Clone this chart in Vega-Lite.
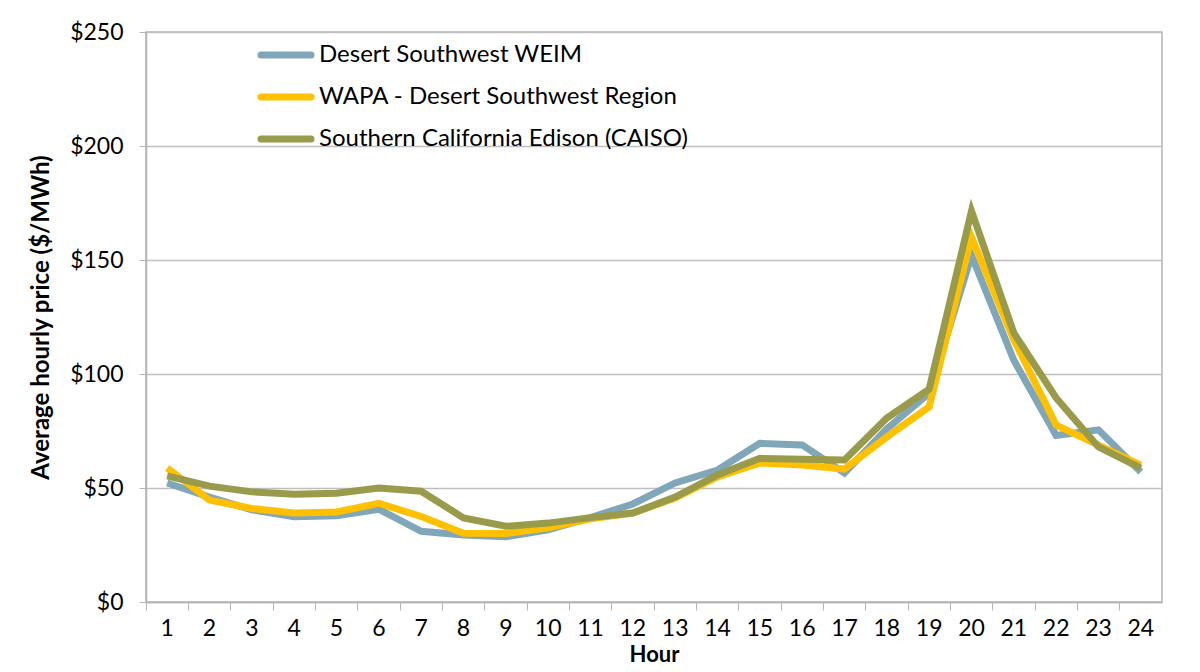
{
  "$schema": "https://vega.github.io/schema/vega-lite/v6.json",
  "width": 1016,
  "height": 570,
  "autosize": {"type": "none"},
  "padding": {"left": 146, "top": 32, "right": 38, "bottom": 70},
  "background": "white",
  "config": {
    "font": "Lato",
    "view": {"stroke": "#B4B4B4", "strokeWidth": 1.5}
  },
  "data": {
    "values": [
      {"hour": 1, "series": "Desert Southwest WEIM", "price": 52.2},
      {"hour": 2, "series": "Desert Southwest WEIM", "price": 46},
      {"hour": 3, "series": "Desert Southwest WEIM", "price": 40.4},
      {"hour": 4, "series": "Desert Southwest WEIM", "price": 37.4},
      {"hour": 5, "series": "Desert Southwest WEIM", "price": 37.8},
      {"hour": 6, "series": "Desert Southwest WEIM", "price": 40.7},
      {"hour": 7, "series": "Desert Southwest WEIM", "price": 31},
      {"hour": 8, "series": "Desert Southwest WEIM", "price": 29.4},
      {"hour": 9, "series": "Desert Southwest WEIM", "price": 28.6},
      {"hour": 10, "series": "Desert Southwest WEIM", "price": 31.6},
      {"hour": 11, "series": "Desert Southwest WEIM", "price": 37},
      {"hour": 12, "series": "Desert Southwest WEIM", "price": 43},
      {"hour": 13, "series": "Desert Southwest WEIM", "price": 52.2},
      {"hour": 14, "series": "Desert Southwest WEIM", "price": 57.9},
      {"hour": 15, "series": "Desert Southwest WEIM", "price": 69.6},
      {"hour": 16, "series": "Desert Southwest WEIM", "price": 68.9},
      {"hour": 17, "series": "Desert Southwest WEIM", "price": 56.6},
      {"hour": 18, "series": "Desert Southwest WEIM", "price": 76},
      {"hour": 19, "series": "Desert Southwest WEIM", "price": 91.6},
      {"hour": 20, "series": "Desert Southwest WEIM", "price": 152},
      {"hour": 21, "series": "Desert Southwest WEIM", "price": 106},
      {"hour": 22, "series": "Desert Southwest WEIM", "price": 73},
      {"hour": 23, "series": "Desert Southwest WEIM", "price": 75.5},
      {"hour": 24, "series": "Desert Southwest WEIM", "price": 57},
      {"hour": 1, "series": "WAPA - Desert Southwest Region", "price": 58.8},
      {"hour": 2, "series": "WAPA - Desert Southwest Region", "price": 44.7},
      {"hour": 3, "series": "WAPA - Desert Southwest Region", "price": 41},
      {"hour": 4, "series": "WAPA - Desert Southwest Region", "price": 39},
      {"hour": 5, "series": "WAPA - Desert Southwest Region", "price": 39.5},
      {"hour": 6, "series": "WAPA - Desert Southwest Region", "price": 43.3},
      {"hour": 7, "series": "WAPA - Desert Southwest Region", "price": 37.5},
      {"hour": 8, "series": "WAPA - Desert Southwest Region", "price": 30.2},
      {"hour": 9, "series": "WAPA - Desert Southwest Region", "price": 30},
      {"hour": 10, "series": "WAPA - Desert Southwest Region", "price": 32.5},
      {"hour": 11, "series": "WAPA - Desert Southwest Region", "price": 36.5},
      {"hour": 12, "series": "WAPA - Desert Southwest Region", "price": 39},
      {"hour": 13, "series": "WAPA - Desert Southwest Region", "price": 45.6},
      {"hour": 14, "series": "WAPA - Desert Southwest Region", "price": 54.9},
      {"hour": 15, "series": "WAPA - Desert Southwest Region", "price": 61},
      {"hour": 16, "series": "WAPA - Desert Southwest Region", "price": 60.1},
      {"hour": 17, "series": "WAPA - Desert Southwest Region", "price": 58.3},
      {"hour": 18, "series": "WAPA - Desert Southwest Region", "price": 72.4},
      {"hour": 19, "series": "WAPA - Desert Southwest Region", "price": 85.6},
      {"hour": 20, "series": "WAPA - Desert Southwest Region", "price": 160},
      {"hour": 21, "series": "WAPA - Desert Southwest Region", "price": 115},
      {"hour": 22, "series": "WAPA - Desert Southwest Region", "price": 77.6},
      {"hour": 23, "series": "WAPA - Desert Southwest Region", "price": 68.8},
      {"hour": 24, "series": "WAPA - Desert Southwest Region", "price": 60},
      {"hour": 1, "series": "Southern California Edison (CAISO)", "price": 55.3},
      {"hour": 2, "series": "Southern California Edison (CAISO)", "price": 50.8},
      {"hour": 3, "series": "Southern California Edison (CAISO)", "price": 48.3},
      {"hour": 4, "series": "Southern California Edison (CAISO)", "price": 47.3},
      {"hour": 5, "series": "Southern California Edison (CAISO)", "price": 47.7},
      {"hour": 6, "series": "Southern California Edison (CAISO)", "price": 50},
      {"hour": 7, "series": "Southern California Edison (CAISO)", "price": 48.6},
      {"hour": 8, "series": "Southern California Edison (CAISO)", "price": 36.9},
      {"hour": 9, "series": "Southern California Edison (CAISO)", "price": 33.2},
      {"hour": 10, "series": "Southern California Edison (CAISO)", "price": 34.6},
      {"hour": 11, "series": "Southern California Edison (CAISO)", "price": 37},
      {"hour": 12, "series": "Southern California Edison (CAISO)", "price": 39},
      {"hour": 13, "series": "Southern California Edison (CAISO)", "price": 46},
      {"hour": 14, "series": "Southern California Edison (CAISO)", "price": 55.7},
      {"hour": 15, "series": "Southern California Edison (CAISO)", "price": 63},
      {"hour": 16, "series": "Southern California Edison (CAISO)", "price": 62.6},
      {"hour": 17, "series": "Southern California Edison (CAISO)", "price": 62.3},
      {"hour": 18, "series": "Southern California Edison (CAISO)", "price": 80.7},
      {"hour": 19, "series": "Southern California Edison (CAISO)", "price": 93.4},
      {"hour": 20, "series": "Southern California Edison (CAISO)", "price": 171.5},
      {"hour": 21, "series": "Southern California Edison (CAISO)", "price": 118},
      {"hour": 22, "series": "Southern California Edison (CAISO)", "price": 89.5},
      {"hour": 23, "series": "Southern California Edison (CAISO)", "price": 68},
      {"hour": 24, "series": "Southern California Edison (CAISO)", "price": 58.7}
    ]
  },
  "mark": {"type": "line", "strokeWidth": 7, "strokeJoin": "miter", "strokeCap": "butt"},
  "encoding": {
    "x": {
      "field": "hour",
      "type": "ordinal",
      "sort": "ascending",
      "scale": {"type": "band", "paddingInner": 0, "paddingOuter": 0},
      "axis": {
        "title": "Hour",
        "titleFont": "Lato",
        "titleFontSize": 22,
        "titleFontWeight": "bold",
        "titleColor": "#000000",
        "titlePadding": 4,
        "labelAngle": 0,
        "labelFontSize": 23,
        "labelColor": "#000000",
        "labelPadding": 7,
        "bandPosition": 0,
        "tickColor": "#B4B4B4",
        "tickSize": 8,
        "domainColor": "#B4B4B4",
        "domainWidth": 1.5,
        "grid": false
      }
    },
    "y": {
      "field": "price",
      "type": "quantitative",
      "scale": {"domain": [0, 250], "nice": false},
      "axis": {
        "title": "Average hourly price ($/MWh)",
        "titleFont": "Lato",
        "titleFontSize": 24,
        "titleFontWeight": "bold",
        "titleColor": "#000000",
        "titlePadding": 16,
        "values": [0, 50, 100, 150, 200, 250],
        "format": "$.0f",
        "labelFontSize": 23,
        "labelColor": "#000000",
        "labelPadding": 16,
        "tickColor": "#B4B4B4",
        "tickSize": 7,
        "domainColor": "#B4B4B4",
        "domainWidth": 1.5,
        "gridColor": "#BFBFBF",
        "gridWidth": 1.5
      }
    },
    "color": {
      "field": "series",
      "type": "nominal",
      "sort": null,
      "scale": {
        "domain": ["Desert Southwest WEIM", "WAPA - Desert Southwest Region", "Southern California Edison (CAISO)"],
        "range": ["#7FA6B9", "#FFC000", "#9A9B4A"]
      },
      "legend": {
        "title": null,
        "orient": "none",
        "legendX": 116,
        "legendY": -1,
        "symbolType": "M-1.22,0H1.22",
        "symbolStrokeWidth": 7,
        "symbolSize": 1681,
        "labelFontSize": 24,
        "labelColor": "#000000",
        "labelOffset": 9,
        "rowPadding": 4,
        "labelLimit": 500,
        "encode": {"symbols": {"update": {"strokeCap": {"value": "round"}}}}
      }
    },
    "order": {"field": "hour"}
  }
}
